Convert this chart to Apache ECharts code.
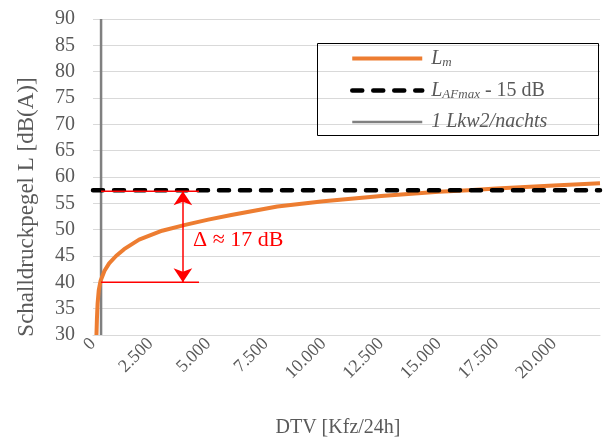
<!DOCTYPE html>
<html>
<head>
<meta charset="utf-8">
<script src="https://cdn.jsdelivr.net/npm/echarts@6/dist/echarts.min.js"></script>
<style>html,body{margin:0;padding:0;background:#fff}#c{width:610px;height:443px}</style>
</head>
<body>
<div id="c"></div>
<script>
// ---- data ----
var dtv = [150, 170, 200, 250, 330, 500, 700, 1000, 1350, 2000, 3000, 4000, 5000, 6000, 8000, 10000, 12500, 15000, 16300, 17500, 20000, 22000];
var lm  = [30, 33, 36, 38.5, 40.3, 42.2, 43.6, 45.0, 46.3, 48.1, 49.8, 50.9, 51.9, 52.8, 54.4, 55.4, 56.4, 57.2, 57.5, 57.8, 58.4, 58.8];
var lafmaxX = [0, 22000];
var lafmaxY = [57.5, 57.5];
var lkwX = [350, 350];
var lkwY = [30, 90];
var deltaUpperX = [350, 4600];
var deltaUpperY = [57.3, 57.3];
var deltaLowerX = [350, 4600];
var deltaLowerY = [40, 40];
var arrowX = 3900;
var arrowTop = 57.3, arrowBottom = 40;
var deltaText = 'Δ ≈ 17 dB';
var xTicks = { min: 0, max: 22000, step: 2500 };
var yTicks = { min: 30, max: 90, step: 5 };
var seriesNames = ['Lm', 'LAFmax', 'Lkw'];
var xName = 'DTV [Kfz/24h]';
var yName = 'Schalldruckpegel L [dB(A)]';

function pairs(xs, ys) { return xs.map(function (x, i) { return [x, ys[i]]; }); }
function fmt(v) { return String(v).replace(/\B(?=(\d{3})+(?!\d))/g, '.'); }

var FONT = 'Liberation Serif';
var TXT = '#595959';

var chart = echarts.init(document.getElementById('c'), null, { renderer: 'canvas' });
chart.setOption({
  animation: false,
  backgroundColor: '#fff',
  textStyle: { fontFamily: FONT, color: TXT },
  grid: { left: 93, right: 10, top: 19, bottom: 105, containLabel: false },
  xAxis: {
    type: 'value', min: xTicks.min, max: xTicks.max, interval: xTicks.step,
    name: xName, nameLocation: 'middle', nameGap: 83,
    nameTextStyle: { fontFamily: FONT, fontSize: 20, color: TXT, padding: [0, 17, 0, 0] },
    axisLine: { show: true, lineStyle: { color: '#d9d9d9', width: 1 } },
    axisTick: { show: false },
    splitLine: { show: false },
    axisLabel: { rotate: 45, margin: 6, fontFamily: FONT, fontSize: 18, color: TXT,
      showMaxLabel: false,
      formatter: function (v) { return v > 20000 ? '' : '{t|' + fmt(v) + '}'; },
      rich: { t: { fontFamily: FONT, fontSize: 18, color: TXT } } }
  },
  yAxis: {
    type: 'value', min: yTicks.min, max: yTicks.max, interval: yTicks.step,
    axisLine: { show: false }, axisTick: { show: false },
    splitLine: { show: true, lineStyle: { color: '#d9d9d9', width: 1 } },
    axisLabel: { margin: 18, fontFamily: FONT, fontSize: 20, color: TXT,
      formatter: function (v) { return '{t|' + v + '}'; },
      rich: { t: { fontFamily: FONT, fontSize: 20, color: TXT } } }
  },
  legend: {
    orient: 'vertical', left: 350, top: 48, padding: 0, itemGap: 11,
    itemWidth: 70, itemHeight: 14, selectedMode: false,
    itemStyle: { opacity: 0 },
    data: [
      { name: seriesNames[0], lineStyle: { width: 4 } },
      { name: seriesNames[1], lineStyle: { width: 4.5 } },
      { name: seriesNames[2], lineStyle: { width: 2.5 } }
    ],
    formatter: function (n) {
      if (n === 'Lm') return '{i|L}{sub|m}';
      if (n === 'LAFmax') return '{i|L}{sub|AFmax}{n| - 15 dB}';
      return '{i|1 Lkw2/nachts}';
    },
    textStyle: {
      color: TXT, fontFamily: FONT, fontSize: 20,
      rich: {
        i: { fontStyle: 'italic', fontFamily: FONT, fontSize: 20, color: TXT, lineHeight: 22, padding: [0, 0, 0, 4] },
        sub: { fontStyle: 'italic', fontFamily: FONT, fontSize: 13, color: TXT, lineHeight: 14, padding: [8, 0, 0, 0] },
        n: { fontFamily: FONT, fontSize: 20, color: TXT, lineHeight: 22 }
      }
    }
  },
  graphic: [
    { type: 'rect', shape: { x: 317.5, y: 43.5, width: 281, height: 92 },
      style: { fill: 'none', stroke: '#000', lineWidth: 1 }, z: 1 },
    { type: 'text', x: 27, y: 207, rotation: Math.PI / 2,
      style: { text: yName, fontFamily: FONT, fontSize: 23, fill: TXT, textAlign: 'center', textVerticalAlign: 'middle' } },
    { type: 'text', x: 193, y: 240,
      style: { text: deltaText, fontFamily: FONT, fontSize: 22, fill: '#ff0000', textAlign: 'left', textVerticalAlign: 'middle' } }
  ],
  series: [
    { name: 'Lm', type: 'line', data: pairs(dtv, lm), showSymbol: false, symbol: 'none',
      lineStyle: { color: '#ed7d31', width: 4, join: 'round' }, itemStyle: { color: '#ed7d31' }, z: 3 },
    { name: 'LAFmax', type: 'line', data: pairs(lafmaxX, lafmaxY), showSymbol: false, symbol: 'none',
      lineStyle: { color: '#000', width: 4.5, type: [10, 11], cap: 'round' }, itemStyle: { color: '#000' }, z: 4 },
    { name: 'Lkw', type: 'line', data: pairs(lkwX, lkwY), showSymbol: false, symbol: 'none',
      lineStyle: { color: '#808080', width: 2.5 }, itemStyle: { color: '#808080' }, z: 2 },
    { name: 'deltaUpper', type: 'line', data: pairs(deltaUpperX, deltaUpperY), showSymbol: false, symbol: 'none',
      lineStyle: { color: '#ff0000', width: 1.5 }, z: 5, silent: true },
    { name: 'deltaLower', type: 'line', data: pairs(deltaLowerX, deltaLowerY), showSymbol: false, symbol: 'none',
      lineStyle: { color: '#ff0000', width: 1.5 }, z: 5, silent: true,
      markLine: {
        silent: true, symbol: ['arrow', 'arrow'], symbolSize: [14, 14],
        label: { show: false },
        lineStyle: { color: '#ff0000', width: 1.5, type: 'solid' },
        data: [[{ coord: [arrowX, arrowTop] }, { coord: [arrowX, arrowBottom] }]]
      } }
  ]
});
</script>
</body>
</html>
